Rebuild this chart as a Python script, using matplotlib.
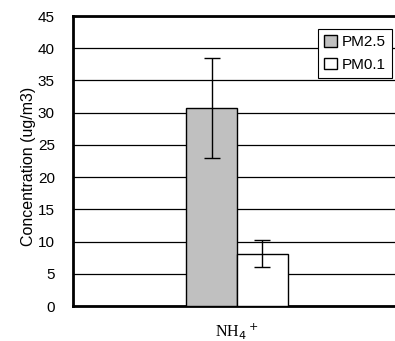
import numpy as np
import matplotlib.pyplot as plt

# data
category = "NH$_4$$^+$"
series = ["PM2.5", "PM0.1"]
values = [30.7, 8.1]
errors = [7.8, 2.1]
colors = ["#c0c0c0", "#ffffff"]
yticks = [0, 5, 10, 15, 20, 25, 30, 35, 40, 45]

fig = plt.figure(figsize=(3.95, 3.41), dpi=100)
ax = fig.add_axes([73/395, 1 - 306/341, 328/395, 290/341])

width = 0.31
offsets = [-width/2, width/2]
for name, v, e, c, off in zip(series, values, errors, colors, offsets):
    ax.bar(off, v, width=width, color=c, edgecolor="black", linewidth=1.0,
           yerr=e, capsize=6, error_kw=dict(elinewidth=1, ecolor="black", capthick=1),
           label=name, zorder=3)

ax.set_xlim(-1, 1)
ax.set_ylim(0, 45)
ax.set_yticks(yticks)
ax.set_yticklabels([str(t) for t in yticks], fontsize=11, family="Liberation Sans")
ax.tick_params(axis="y", length=0, pad=13)
ax.set_xticks([0])
ax.set_xticklabels([category], fontsize=11.5, family="Liberation Serif")
ax.tick_params(axis="x", length=0, pad=11)
ax.yaxis.grid(True, color="black", linewidth=0.9, zorder=0)
ax.set_axisbelow(True)

ax.spines["right"].set_visible(False)
for s in ["left", "top", "bottom"]:
    ax.spines[s].set_linewidth(2)

ax.set_ylabel("Concentration (ug/m3)", fontsize=11.5, family="Liberation Sans")
ax.yaxis.set_label_coords(-0.112, 0.483)

leg = ax.legend(loc="upper right", bbox_to_anchor=(0.973, 0.955),
                prop={"family": "Liberation Sans", "size": 11},
                frameon=True, fancybox=False, edgecolor="black", framealpha=1,
                handlelength=0.8, handleheight=0.8, handletextpad=0.35,
                borderpad=0.4, labelspacing=0.55, borderaxespad=0)
leg.get_frame().set_linewidth(0.8)

fig.savefig("out.png", dpi=100)
